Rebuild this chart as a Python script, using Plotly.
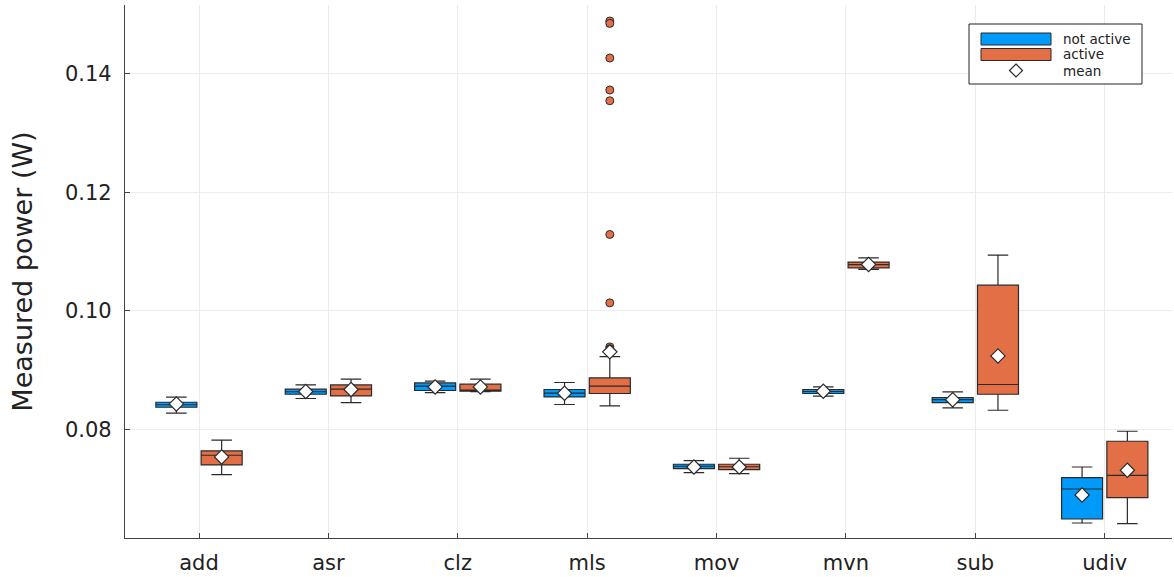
import plotly.graph_objects as go

# Instruction categories
categories = ["add", "asr", "clz", "mls", "mov", "mvn", "sub", "udiv"]

# Box statistics (W) when the feature is not active
na_lower = [0.08275, 0.08523, 0.08621, 0.08422, 0.07275, 0.08562, 0.08364, 0.06425]
na_q1 = [0.08376, 0.08595, 0.08658, 0.08550, 0.07342, 0.08607, 0.08455, 0.06492]
na_median = [0.08418, 0.08637, 0.08730, 0.08612, 0.07381, 0.08641, 0.08503, 0.06998]
na_q3 = [0.08460, 0.08680, 0.08786, 0.08675, 0.07415, 0.08675, 0.08540, 0.07191]
na_upper = [0.08545, 0.08752, 0.08815, 0.08793, 0.07477, 0.08718, 0.08634, 0.07369]
na_mean = [0.08432, 0.08641, 0.08718, 0.08612, 0.07369, 0.08646, 0.08503, 0.06897]

# Box statistics (W) when the feature is active
ac_lower = [0.07241, 0.08455, 0.08640, 0.08398, 0.07258, 0.10698, 0.08325, 0.06415]
ac_q1 = [0.07403, 0.08567, 0.08646, 0.08607, 0.07325, 0.10726, 0.08595, 0.06853]
ac_median = [0.07567, 0.08680, 0.08663, 0.08730, 0.07373, 0.10780, 0.08759, 0.07229]
ac_q3 = [0.07639, 0.08752, 0.08764, 0.08870, 0.07415, 0.10822, 0.10433, 0.07803]
ac_upper = [0.07820, 0.08848, 0.08848, 0.09228, 0.07516, 0.10894, 0.10939, 0.07971]
ac_mean = [0.07538, 0.08675, 0.08718, 0.09309, 0.07369, 0.10783, 0.09241, 0.07314]

# Outliers of the active "mls" measurements
mls_outliers = [0.14885, 0.14845, 0.14261, 0.13722, 0.13541, 0.11288, 0.10135, 0.09393, 0.09360]

legend_labels = ["not active", "active", "mean"]

BLUE = "#009AFA"
ORANGE = "#E36F47"
EDGE = "#2a2a2a"
OFFSET = 0.175
BOX_W = 0.317
FONT = "DejaVu Sans"

W, H = 1174, 577
M_L, M_R, M_T, M_B = 125, 2, 5, 39
PW, PH = W - M_L - M_R, H - M_T - M_B

centers = list(range(1, len(categories) + 1))
x_na = [c - OFFSET for c in centers]
x_ac = [c + OFFSET for c in centers]
mls_idx = categories.index("mls")

fig = go.Figure()

fig.add_trace(go.Box(
    name=legend_labels[0], x=x_na,
    q1=na_q1, median=na_median, q3=na_q3,
    lowerfence=na_lower, upperfence=na_upper,
    width=BOX_W, whiskerwidth=0.5, boxpoints=False, showlegend=False,
    fillcolor=BLUE, line=dict(color=EDGE, width=1.2),
))
fig.add_trace(go.Box(
    name=legend_labels[1], x=x_ac,
    q1=ac_q1, median=ac_median, q3=ac_q3,
    lowerfence=ac_lower, upperfence=ac_upper,
    width=BOX_W, whiskerwidth=0.5, boxpoints=False, showlegend=False,
    fillcolor=ORANGE, line=dict(color=EDGE, width=1.2),
))

fig.add_trace(go.Scatter(
    x=[x_ac[mls_idx]] * len(mls_outliers), y=mls_outliers,
    mode="markers", showlegend=False, hoverinfo="y",
    marker=dict(symbol="circle", size=8, color=ORANGE,
                line=dict(color=EDGE, width=1)),
))

fig.add_trace(go.Scatter(
    name=legend_labels[2], x=x_na + x_ac, y=na_mean + ac_mean,
    mode="markers", showlegend=False,
    marker=dict(symbol="diamond", size=11, color="white",
                line=dict(color=EDGE, width=1.2)),
))


# Legend drawn in pixel units of the plot area, converted to paper coordinates
def px(x):
    return (x - M_L) / PW


def py(y):
    return (H - M_B - y) / PH


shapes = [
    dict(type="rect", xref="paper", yref="paper",
         x0=px(969), x1=px(1142), y0=py(84), y1=py(24),
         line=dict(color="#222222", width=1), fillcolor="white", layer="above"),
    dict(type="rect", xref="paper", yref="paper",
         x0=px(981), x1=px(1051), y0=py(45), y1=py(33),
         line=dict(color=EDGE, width=1), fillcolor=BLUE, layer="above"),
    dict(type="rect", xref="paper", yref="paper",
         x0=px(981), x1=px(1051), y0=py(60.5), y1=py(48.5),
         line=dict(color=EDGE, width=1), fillcolor=ORANGE, layer="above"),
]
dcx, dcy, dr = 1016, 70.5, 6.5
diamond_path = "M {:.5f},{:.5f} L {:.5f},{:.5f} L {:.5f},{:.5f} L {:.5f},{:.5f} Z".format(
    px(dcx), py(dcy - dr), px(dcx + dr), py(dcy), px(dcx), py(dcy + dr), px(dcx - dr), py(dcy))
shapes.append(dict(type="path", xref="paper", yref="paper", path=diamond_path,
                   line=dict(color=EDGE, width=1.2), fillcolor="white", layer="above"))

annotations = []
for label, ty in zip(legend_labels, [39, 54.5, 70.5]):
    annotations.append(dict(
        xref="paper", yref="paper", x=px(1061), y=py(ty),
        xanchor="left", yanchor="middle", showarrow=False,
        text=label, font=dict(size=13.5, family=FONT, color="#222222"),
    ))

fig.update_layout(
    width=W, height=H,
    margin=dict(l=M_L, r=M_R, t=M_T, b=M_B),
    paper_bgcolor="white", plot_bgcolor="white",
    font=dict(family=FONT, color="#222222"),
    showlegend=False,
    shapes=shapes,
    annotations=annotations,
)

fig.update_xaxes(
    range=[0.428, 8.52],
    tickmode="array", tickvals=centers, ticktext=categories,
    tickfont=dict(size=21, family=FONT), ticklabelstandoff=6,
    showgrid=True, gridcolor="#ececec", gridwidth=1,
    showline=True, linecolor="#444444", linewidth=1.2,
    ticks="inside", ticklen=5, tickcolor="#444444",
    zeroline=False,
)
fig.update_yaxes(
    range=[0.06172, 0.15155],
    tickmode="array", tickvals=[0.08, 0.10, 0.12, 0.14],
    ticktext=["0.08", "0.10", "0.12", "0.14"],
    tickfont=dict(size=21, family=FONT), ticklabelstandoff=8,
    title=dict(text="Measured power (W)", font=dict(size=27, family=FONT), standoff=24),
    showgrid=True, gridcolor="#ececec", gridwidth=1,
    showline=True, linecolor="#444444", linewidth=1.2,
    ticks="inside", ticklen=5, tickcolor="#444444",
    zeroline=False,
)

fig.write_html("out.html")
